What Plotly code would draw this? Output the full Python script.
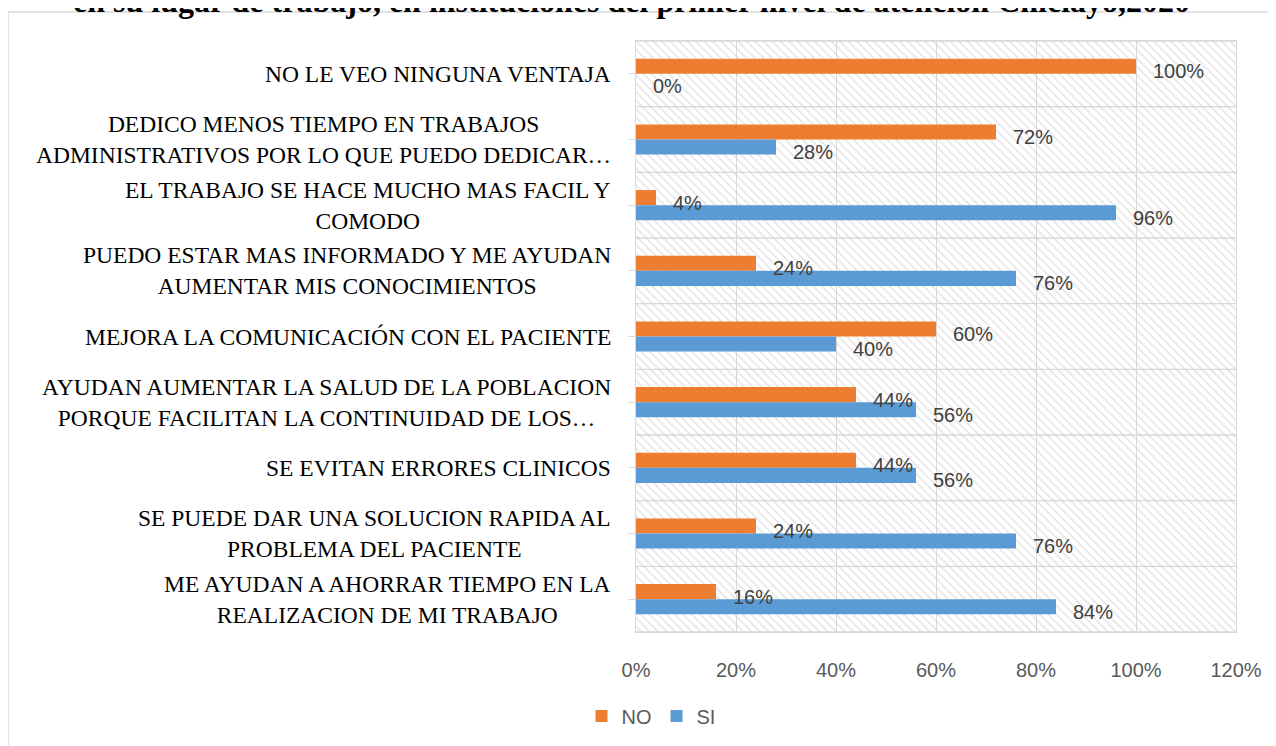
import plotly.graph_objects as go

categorias = [
    'NO LE VEO NINGUNA VENTAJA',
    'DEDICO MENOS TIEMPO EN TRABAJOS<br>ADMINISTRATIVOS POR LO QUE PUEDO DEDICAR…',
    'EL TRABAJO SE HACE MUCHO MAS FACIL Y<br>COMODO',
    'PUEDO ESTAR MAS INFORMADO Y ME AYUDAN<br>AUMENTAR MIS CONOCIMIENTOS',
    'MEJORA LA COMUNICACIÓN CON EL PACIENTE',
    'AYUDAN AUMENTAR LA SALUD DE LA POBLACION<br>PORQUE FACILITAN LA CONTINUIDAD DE LOS…',
    'SE EVITAN ERRORES CLINICOS',
    'SE PUEDE DAR UNA SOLUCION RAPIDA AL<br>PROBLEMA DEL PACIENTE',
    'ME AYUDAN A AHORRAR TIEMPO EN LA<br>REALIZACION DE MI TRABAJO',
]
no_vals = [100, 72, 4, 24, 60, 44, 44, 24, 16]
si_vals = [0, 28, 96, 76, 40, 56, 56, 76, 84]
x_max = 1.2

titulo = 'en su lugar de trabajo, en instituciones del primer nivel de atención Chiclayo,2020'

NARANJA = '#ED7D31'
AZUL = '#5B9BD5'
GRIS = '#d9d9d9'

idx = list(range(len(categorias)))

fig = go.Figure()

# fondo rayado del area de trazado
fig.add_trace(go.Bar(
    x=[x_max] * len(idx), y=idx, orientation='h', width=1, offset=-0.5,
    marker=dict(color='rgba(0,0,0,0)', line=dict(width=0),
                pattern=dict(shape='\\', fgcolor='#cccccc', bgcolor='rgba(0,0,0,0)',
                             size=6, solidity=0.28)),
    showlegend=False, hoverinfo='skip',
))

fig.add_trace(go.Bar(
    name='NO', x=[v / 100 for v in no_vals], y=idx, orientation='h',
    width=0.23, offset=-0.23, marker=dict(color=NARANJA, line=dict(width=0)),
))
fig.add_trace(go.Bar(
    name='SI', x=[v / 100 for v in si_vals], y=idx, orientation='h',
    width=0.23, offset=0, marker=dict(color=AZUL, line=dict(width=0)),
))

anots = []
for i in idx:
    for vals, dy in ((no_vals, -0.115), (si_vals, 0.115)):
        anots.append(dict(
            x=vals[i] / 100, y=i + dy, xref='x', yref='y', text=f'{vals[i]}%',
            showarrow=False, xanchor='left', yanchor='middle', xshift=15, yshift=-5,
            font=dict(family='Liberation Sans', size=20, color='#404040'),
        ))
    anots.append(dict(
        x=0, y=i, xref='paper', yref='y', text=categorias[i], showarrow=False,
        xanchor='right', yanchor='middle', align='center', xshift=-23,
        font=dict(family='Liberation Serif', size=23.5, color='black'),
    ))

anots.append(dict(
    x=-0.0067, y=1.0675, xref='paper', yref='paper', text='<b>' + titulo + '</b>',
    showarrow=False, xanchor='center', yanchor='middle',
    font=dict(family='Liberation Serif', size=32, color='black'),
))

# la pagina tiene un margen de 8 px, se compensa en los margenes
fig.update_layout(
    width=1276, height=746,
    margin=dict(l=628, r=48, t=33, b=122),
    paper_bgcolor='white', plot_bgcolor='white',
    barmode='overlay',
    font=dict(family='Liberation Sans', size=20, color='#595959'),
    annotations=anots,
    shapes=[dict(type='rect', xref='paper', yref='paper',
                 x0=-1.0467, x1=1.2, y0=-0.3, y1=1.049,
                 line=dict(color=GRIS, width=1.5), fillcolor='rgba(0,0,0,0)', layer='below')],
    legend=dict(orientation='h', x=0.025, xanchor='center', y=-0.142, yanchor='middle',
                font=dict(size=20, color='#595959'), bgcolor='rgba(0,0,0,0)'),
    showlegend=True,
)

fig.update_xaxes(
    range=[0, x_max], dtick=0.2, tickformat='.0%',
    showgrid=True, gridcolor=GRIS, gridwidth=1.3, zeroline=False,
    showline=True, linecolor=GRIS, linewidth=1.3, mirror=True,
    ticks='', ticklabelstandoff=20,
    tickfont=dict(size=20, color='#595959'),
)
fig.update_yaxes(
    range=[len(idx) - 0.5, -0.5], tickmode='array', tickvals=idx,
    showticklabels=False, showgrid=False, zeroline=False,
    showline=True, linecolor=GRIS, linewidth=1.3, mirror=True,
    ticks='outside', ticklen=7, tickcolor=GRIS, tickwidth=1.3,
)

# lineas horizontales entre categorias
for b in range(len(idx) + 1):
    fig.add_hline(y=b - 0.5, line=dict(color=GRIS, width=1.3), layer='below')

fig.write_html('out.html')
